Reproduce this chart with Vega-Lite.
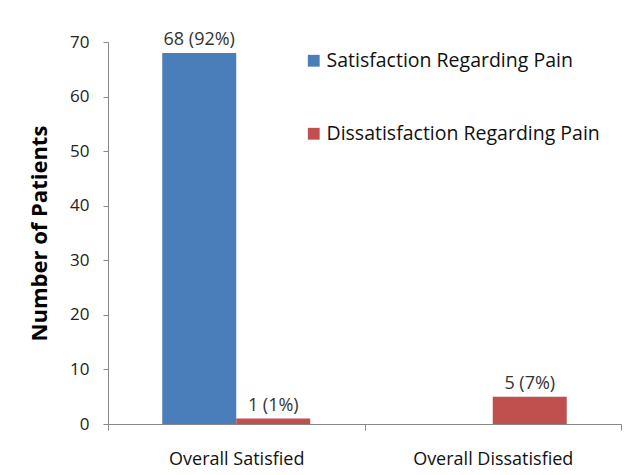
{
  "$schema": "https://vega.github.io/schema/vega-lite/v6.json",
  "width": 513,
  "height": 382,
  "autosize": {"type": "none"},
  "padding": {"left": 108, "top": 42, "right": 13, "bottom": 51},
  "background": "white",
  "config": {"view": {"stroke": null}, "font": "Open Sans"},
  "data": {"values": [
    {"group": "Overall Satisfied", "series": "Satisfaction Regarding Pain", "count": 68, "label": "68 (92%)"},
    {"group": "Overall Satisfied", "series": "Dissatisfaction Regarding Pain", "count": 1, "label": "1 (1%)"},
    {"group": "Overall Dissatisfied", "series": "Satisfaction Regarding Pain", "count": 0, "label": ""},
    {"group": "Overall Dissatisfied", "series": "Dissatisfaction Regarding Pain", "count": 5, "label": "5 (7%)"}
  ]},
  "encoding": {
    "x": {
      "field": "group", "type": "nominal", "sort": ["Overall Satisfied", "Overall Dissatisfied"],
      "scale": {"paddingInner": 0, "paddingOuter": 0},
      "axis": {"title": null, "labelAngle": 0, "labelFontSize": 18, "labelColor": "#111", "labelPadding": 20,
               "domainColor": "#888", "tickColor": "#888", "tickSize": 6, "tickBand": "extent"}
    },
    "xOffset": {"field": "series", "type": "nominal", "sort": ["Satisfaction Regarding Pain", "Dissatisfaction Regarding Pain"],
                "scale": {"paddingInner": 0, "paddingOuter": 0.733}},
    "y": {
      "field": "count", "type": "quantitative",
      "scale": {"domain": [0, 70]},
      "axis": {"title": "Number of Patients", "titleFontSize": 22, "titleFontWeight": "bold", "titleColor": "#000",
               "titlePadding": 18, "values": [0, 10, 20, 30, 40, 50, 60, 70], "grid": false,
               "labelFontSize": 17, "labelColor": "#222", "labelPadding": 14, "domainColor": "#888", "tickColor": "#888", "tickSize": 5}
    }
  },
  "layer": [
    {
      "mark": {"type": "bar"},
      "encoding": {
        "color": {
          "field": "series", "type": "nominal",
          "sort": ["Satisfaction Regarding Pain", "Dissatisfaction Regarding Pain"],
          "scale": {"domain": ["Satisfaction Regarding Pain", "Dissatisfaction Regarding Pain"], "range": ["#4A7EBB", "#C0504D"]},
          "legend": {"title": null, "orient": "none", "legendX": 196, "legendY": 9, "symbolType": "square",
                     "symbolSize": 140, "symbolStrokeWidth": 0, "labelFontSize": 19.5, "labelColor": "#111",
                     "labelLimit": 400, "rowPadding": 52, "labelOffset": 3}
        }
      }
    },
    {
      "transform": [{"filter": "datum.label != ''"}],
      "mark": {"type": "text", "dy": -13, "fontSize": 18, "color": "#333"},
      "encoding": {"text": {"field": "label"}}
    }
  ]
}
